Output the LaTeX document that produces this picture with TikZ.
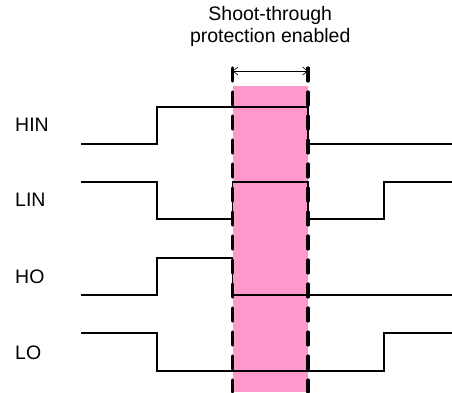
\documentclass[tikz,border=0pt]{standalone}
\usepackage{fontspec}
\setmainfont{Liberation Sans}
\usepackage{xcolor}
\definecolor{mainDark}{HTML}{000000}
\definecolor{guardColor}{HTML}{FF99CC}
\usepackage{tikz}
\usetikzlibrary{positioning,calc,arrows.meta}
\tikzset{
  sigLine/.style={
    draw=mainDark,
    line width=1.2pt,
    line join=miter
 },
  guardLine/.style={
    draw=mainDark,
    line width=3.2pt,
    line cap=round,
    dash pattern=on 13pt off 11pt
 },
  guardBand/.style={
    fill=guardColor,
    draw=none
 },
  sigLabel/.style={
    anchor=west,
    inner sep=0pt,
    font=\fontsize{19.5}{22}\selectfont
 },
  titleText/.style={
    align=center,
    inner sep=0pt,
    font=\fontsize{19.5}{22}\selectfont
 },
  spanArrow/.style={
    {Straight Barb[length=5pt,width=8pt]}-{Straight Barb[length=5pt,width=8pt]},
    line width=0.6pt,
    color=mainDark
 }
}

\begin{document}
\begin{tikzpicture}[x=1pt,y=-1pt]
            \useasboundingbox (0,0) rectangle (452,392);

            % protection window
            \fill[guardBand] (232.5,86) rectangle (308,392);

            % signal names
            \node[sigLabel] (hin) at (15,125) {HIN};
            \node[sigLabel] (lin) at (15,200) {LIN};
            \node[sigLabel] (ho) at (15,277) {HO};
            \node[sigLabel] (lo) at (15,353) {LO};

            % waveforms
            \draw[sigLine] (81,144) -- (157,144) -- (157,107) -- (308,107) -- (308,144) -- (452,144);
            \draw[sigLine] (81,182) -- (157,182) -- (157,219) -- (232.5,219) -- (232.5,182) -- (308,182) -- (308,219) -- (384,219) -- (384,182) -- (452,182);
            \draw[sigLine] (81,295) -- (157,295) -- (157,258) -- (232.5,258) -- (232.5,295) -- (452,295);
            \draw[sigLine] (81,333) -- (157,333) -- (157,371) -- (384,371) -- (384,333) -- (452,333);

            % window edges
            \coordinate (winLtop) at (232.5,68);
            \coordinate (winRtop) at (308,68);
            \draw[guardLine] (winLtop) -- (232.5,392);
            \draw[guardLine] (winRtop) -- (308,392);

            \coordinate (spanL) at (232.5,71);
            \coordinate (spanR) at (308,71);
            \draw[spanArrow] (spanL) -- (spanR);

            \node[titleText, above=24pt of $(spanL)!0.5!(spanR)$] (title) {Shoot-through\\protection enabled};

        \end{tikzpicture}
\end{document}
